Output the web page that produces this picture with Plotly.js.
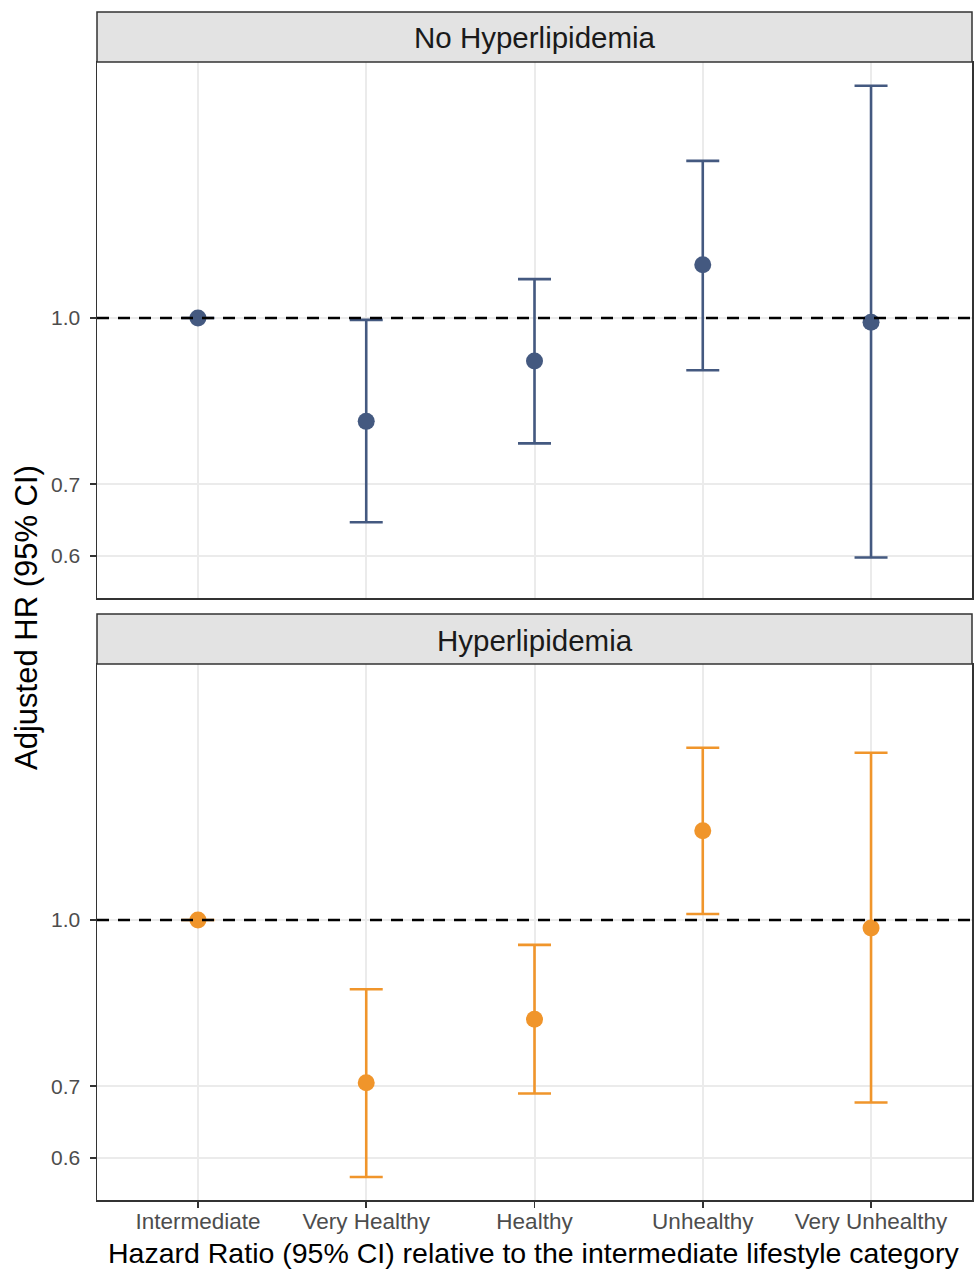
<!DOCTYPE html>
<html>
<head>
<meta charset="utf-8">
<script src="https://cdn.plot.ly/plotly-3.0.1.min.js"></script>
<style>body{margin:0;background:#fff}#chart{width:976px;height:1270px}</style>
</head>
<body>
<div id="chart"></div>
<script>
// ---- data ----
const categories = ["Intermediate", "Very Healthy", "Healthy", "Unhealthy", "Very Unhealthy"];
const panelTitles = ["No Hyperlipidemia", "Hyperlipidemia"];

const noHypHR = [1.0, 0.801, 0.912, 1.121, 0.991];
const noHypLo = [1.0, 0.645, 0.764, 0.894, 0.598];
const noHypHi = [1.0, 0.996, 1.087, 1.401, 1.646];

const hypHR = [1.0, 0.705, 0.808, 1.211, 0.983];
const hypLo = [1.0, 0.576, 0.689, 1.013, 0.676];
const hypHi = [1.0, 0.862, 0.948, 1.447, 1.432];

const yTickVals = [0.6, 0.7, 1.0];
const yTickText = ["0.6", "0.7", "1.0"];
const refLine = 1.0;

const xTitle = "Hazard Ratio (95% CI) relative to the intermediate lifestyle category";
const yTitle = "Adjusted HR (95% CI)";

// ---- styling ----
const BLUE = "#445980";
const ORANGE = "#F0952B";
const FONT = "Liberation Sans, Arial, sans-serif";

function trace(hr, lo, hi, color, xa, ya) {
  return {
    type: "scatter", mode: "markers",
    x: categories, y: hr, xaxis: xa, yaxis: ya,
    marker: {color: color, size: 17},
    error_y: {
      type: "data", symmetric: false,
      array: hi.map((v, i) => v - hr[i]),
      arrayminus: hr.map((v, i) => v - lo[i]),
      color: color, thickness: 2.6, width: 16.5
    },
    showlegend: false, hoverinfo: "skip"
  };
}

const data = [
  trace(noHypHR, noHypLo, noHypHi, BLUE, "x", "y"),
  trace(hypHR, hypLo, hypHi, ORANGE, "x2", "y2")
];

const yRange = [-0.2610, 0.2386];
const H = 1138; // plot area height in px
const dom1 = [(1200 - 598) / H, 1];
const dom2 = [0, (1200 - 664) / H];

const yCommon = {
  type: "log", range: yRange, tickvals: yTickVals, ticktext: yTickText,
  showgrid: true, gridcolor: "#EBEBEB", gridwidth: 2,
  zeroline: false, showline: true, mirror: true, linecolor: "#333333", linewidth: 1.5,
  ticks: "outside", ticklen: 6, tickwidth: 1.5, tickcolor: "#333333",
  ticklabelstandoff: 5,
  tickfont: {family: FONT, size: 21, color: "#4D4D4D"}
};
const xCommon = {
  type: "category", range: [-0.6, 4.6],
  showgrid: true, gridcolor: "#EBEBEB", gridwidth: 2,
  zeroline: false, showline: true, mirror: true, linecolor: "#333333", linewidth: 1.5,
  tickfont: {family: FONT, size: 22.5, color: "#4D4D4D"}
};

function strip(y0, y1) {
  return {type: "rect", xref: "paper", yref: "paper", x0: 0, x1: 1, y0: y0, y1: y1,
    fillcolor: "#E3E3E3", line: {color: "#333333", width: 1.5}, layer: "above"};
}
function hline(xa, ya) {
  return {type: "line", xref: xa + " domain", yref: ya, x0: 0, x1: 1, y0: refLine, y1: refLine,
    line: {color: "#000000", width: 2.4, dash: "12px,9px"}, layer: "above"};
}

const layout = {
  width: 976, height: 1270,
  margin: {l: 97, r: 4, t: 62, b: 70},
  paper_bgcolor: "#ffffff", plot_bgcolor: "#ffffff",
  font: {family: FONT},
  xaxis: Object.assign({}, xCommon, {anchor: "y", matches: "x2", showticklabels: false, ticks: ""}),
  yaxis: Object.assign({}, yCommon, {domain: dom1, anchor: "x"}),
  xaxis2: Object.assign({}, xCommon, {anchor: "y2", ticks: "outside", ticklen: 6, tickwidth: 1.5, tickcolor: "#333333", ticklabelstandoff: -6}),
  yaxis2: Object.assign({}, yCommon, {domain: dom2, anchor: "x2"}),
  shapes: [
    hline("x", "y"), hline("x2", "y2"),
    strip((1200 - 62) / H, (1200 - 12) / H),
    strip((1200 - 664) / H, (1200 - 614) / H)
  ],
  annotations: [
    {text: panelTitles[0], xref: "paper", yref: "paper", x: (535 - 97) / 875, y: (1200 - 38) / H,
     xanchor: "center", yanchor: "middle", showarrow: false,
     font: {family: FONT, size: 29.5, color: "#1A1A1A"}},
    {text: panelTitles[1], xref: "paper", yref: "paper", x: (535 - 97) / 875, y: (1200 - 640) / H,
     xanchor: "center", yanchor: "middle", showarrow: false,
     font: {family: FONT, size: 29.5, color: "#1A1A1A"}},
    {text: xTitle, xref: "paper", yref: "paper", x: (533.5 - 97) / 875, y: (1200 - 1253) / H,
     xanchor: "center", yanchor: "middle", showarrow: false,
     font: {family: FONT, size: 28.5, color: "#000000"}},
    {text: yTitle, xref: "paper", yref: "paper", x: (26 - 97) / 875, y: (1200 - 618) / H,
     xanchor: "center", yanchor: "middle", showarrow: false, textangle: -90,
     font: {family: FONT, size: 31, color: "#000000"}}
  ]
};

Plotly.newPlot("chart", data, layout, {displayModeBar: false, staticPlot: true});
</script>
</body>
</html>
